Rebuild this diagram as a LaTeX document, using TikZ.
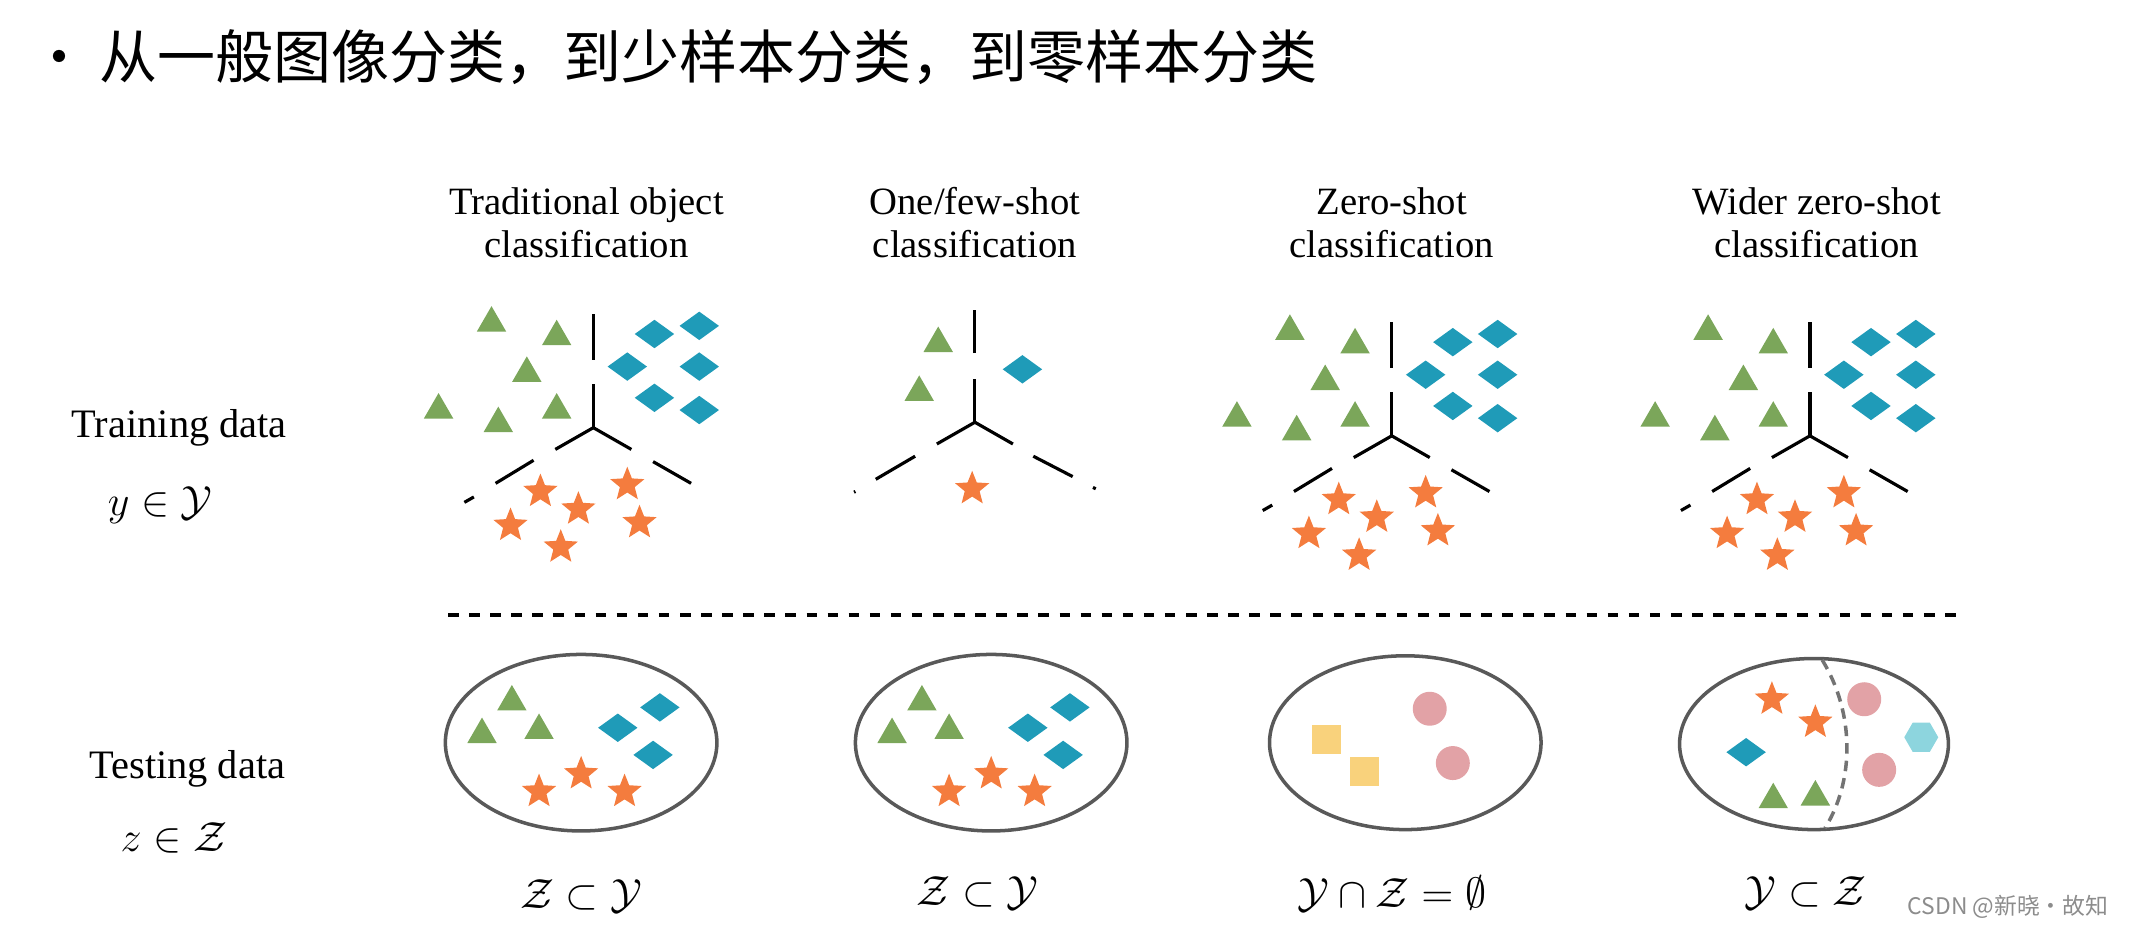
\documentclass[tikz,border=0pt]{standalone}
\usepackage{fontspec}
\setmainfont{Liberation Serif}
\newfontfamily\cjk{Noto Sans CJK SC}
\usetikzlibrary{shapes.geometric}
\definecolor{grn}{HTML}{7BA65A}
\definecolor{teal}{HTML}{1F9BB8}
\definecolor{orng}{HTML}{F47C3E}
\definecolor{pnk}{HTML}{E2A2A6}
\definecolor{ylw}{HTML}{F9D27C}
\definecolor{cyn}{HTML}{8DD5DE}
\tikzset{
    tri/.style={regular polygon, regular polygon sides=3, fill=grn, minimum size=0.34cm, inner sep=0pt},
    dia/.style={diamond, fill=teal, minimum width=0.4cm, minimum height=0.29cm, inner sep=0pt},
    st/.style={star, star points=5, star point ratio=2.3, fill=orng, minimum size=0.36cm, inner sep=0pt},
    dot/.style={circle, fill=pnk, minimum size=0.34cm, inner sep=0pt},
    sq/.style={rectangle, fill=ylw, minimum size=0.29cm, inner sep=0pt},
    hex/.style={regular polygon, regular polygon sides=6, fill=cyn, minimum size=0.34cm, inner sep=0pt},
    sep/.style={line width=0.9pt},
    pool/.style={draw=black!65, line width=1pt},
    head/.style={align=center, font=\fontsize{11}{12.4}\selectfont},
    lbl/.style={font=\fontsize{11.5}{14}\selectfont}
}
\begin{document}
\begin{tikzpicture}[x=0.01358cm, y=-0.01358cm]
    \useasboundingbox (0,0) rectangle (1568,681);
    % title
    \node[anchor=west, font=\cjk\fontsize{16.5}{20}\selectfont] (title) at (13,42) {•\hspace{0.2em}从一般图像分类，到少样本分类，到零样本分类};
    % headers
    \node[head] (h1) at (432,164) {Traditional object\\classification};
    \node[head] (h2) at (718,164) {One/few-shot\\classification};
    \node[head] (h3) at (1025,164) {Zero-shot\\classification};
    \node[head] (h4) at (1338,164) {Wider zero-shot\\classification};
    \node[lbl] (train) at (132,315) {Training data};
    \node[lbl] (ytr) at (118,372) {$y\in\mathcal{Y}$};
    \node[lbl] (test) at (138,566) {Testing data};
    \node[lbl] (zte) at (128,617) {$z\in\mathcal{Z}$};
    \draw[dashed, line width=0.9pt] (330,453) -- (1445,453);
    % training panels
    \foreach \p/\dx/\dy in {a/0/0, c/588/6, d/896/6} {
        \begin{scope}[shift={(\dx,\dy)}]
            \foreach \x/\y [count=\i] in {362/238, 410/248, 388/275, 323/302, 367/312, 410/302}
                \node[tri] (\p t\i) at (\x,\y) {};
            \foreach \x/\y [count=\i] in {482/246, 515/240, 462/270, 515/270, 482/293, 515/302}
                \node[dia] (\p d\i) at (\x,\y) {};
            \foreach \x/\y [count=\i] in {398/362, 426/375, 462/357, 376/387, 413/403, 471/385}
                \node[st] (\p s\i) at (\x,\y) {};
            \coordinate (\p o) at (437,315);
            \draw[sep] (\p o) -- ++(0,-32) ++(0,-18) -- ++(0,-34);
            \draw[sep] (\p o) -- ++(-28,16) ++(-16,8) -- ++(-28,17) ++(-16,10) -- ++(-7,4);
            \draw[sep] (\p o) -- ++(28,16) ++(16,9) -- ++(28,16);
        \end{scope}
    }
    % one/few-shot panel
    \node[tri] (bt1) at (691,253) {};
    \node[tri] (bt2) at (677,289) {};
    \node[dia] (bd1) at (753,272) {};
    \node[st] (bs1) at (716,360) {};
    \coordinate (bo) at (718,311);
    \draw[sep] (bo) -- ++(0,-32) ++(0,-19) -- ++(0,-32);
    \draw[sep] (bo) -- ++(-28,16) ++(-16,9) -- ++(-29,17) ++(-15,9) -- ++(-1,0.5);
    \draw[sep] (bo) -- ++(28,16) ++(15,9) -- ++(29,15) ++(15,8) -- ++(2,1);
    % testing pools
    \draw[pool] (428,547) ellipse (100 and 65);
    \draw[pool] (730,547) ellipse (100 and 65);
    \draw[pool] (1035,547) ellipse (100 and 64);
    \draw[pool] (1336,548) ellipse (99 and 63);
    \foreach \p/\dx in {e/0, f/302} {
        \begin{scope}[xshift=\dx*0.01358cm]
            \foreach \x/\y [count=\i] in {377/517, 355/541, 397/538}
                \node[tri] (\p t\i) at (\x,\y) {};
            \foreach \x/\y [count=\i] in {486/521, 455/536, 481/556}
                \node[dia] (\p d\i) at (\x,\y) {};
            \foreach \x/\y [count=\i] in {397/583, 428/570, 460/583}
                \node[st] (\p s\i) at (\x,\y) {};
        \end{scope}
    }
    \node[sq] (gq1) at (977,545) {};
    \node[sq] (gq2) at (1005,568) {};
    \node[dot] (gc1) at (1053,522) {};
    \node[dot] (gc2) at (1070,562) {};
    \node[st] (hs1) at (1305,515) {};
    \node[st] (hs2) at (1337,532) {};
    \node[dia] (hd1) at (1286,554) {};
    \node[tri] (ht1) at (1306,589) {};
    \node[tri] (ht2) at (1337,587) {};
    \node[dot] (hc1) at (1373,515) {};
    \node[dot] (hc2) at (1384,567) {};
    \node[hex] (hh1) at (1415,543) {};
    \draw[densely dashed, black!55, line width=1pt] (1342,486) .. controls (1366,525) and (1366,575) .. (1344,610);
    % relations
    \node[lbl, font=\fontsize{13}{15}\selectfont] (r1) at (428,660) {$\mathcal{Z}\subset\mathcal{Y}$};
    \node[lbl, font=\fontsize{13}{15}\selectfont] (r2) at (720,658) {$\mathcal{Z}\subset\mathcal{Y}$};
    \node[lbl, font=\fontsize{13}{15}\selectfont] (r3) at (1025,658) {$\mathcal{Y}\cap\mathcal{Z}=\emptyset$};
    \node[lbl, font=\fontsize{13}{15}\selectfont] (r4) at (1330,658) {$\mathcal{Y}\subset\mathcal{Z}$};
    \node[anchor=east, text=black!45, font=\cjk\fontsize{6.5}{8}\selectfont] (mark) at (1562,668) {CSDN @新晓·故知};
\end{tikzpicture}
\end{document}
